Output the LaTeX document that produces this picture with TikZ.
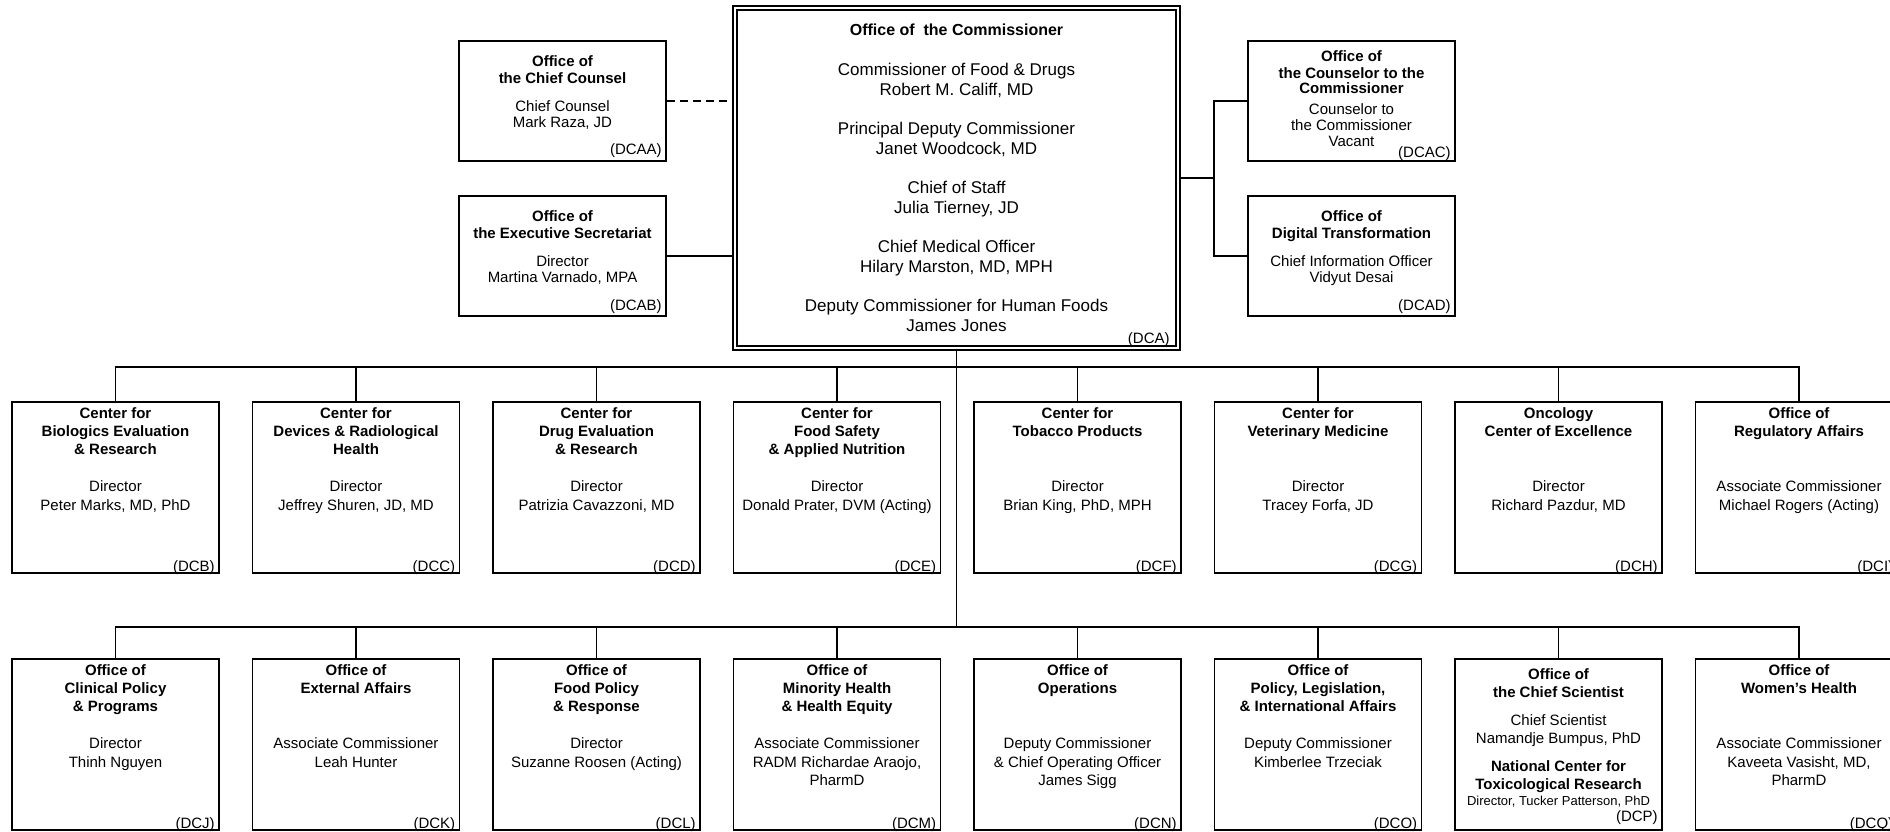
\documentclass[tikz,border=0pt]{standalone}
\usepackage{fontspec}
\setmainfont{Liberation Sans}
\usetikzlibrary{calc}
\tikzset{
  orgbox/.style={draw, line width=1.8pt, rectangle, inner sep=0pt, minimum width=207pt, minimum height=171pt},
  ttl/.style={font=\bfseries\fontsize{15}{18}\selectfont, align=center, inner sep=0pt, anchor=north},
  stf/.style={font=\fontsize{15}{18.5}\selectfont, align=center, inner sep=0pt, anchor=north},
  sttl/.style={font=\bfseries\fontsize{15}{15}\selectfont, align=center, inner sep=0pt, anchor=north},
  sstf/.style={font=\fontsize{15}{16}\selectfont, align=center, inner sep=0pt, anchor=north},
  codelbl/.style={font=\fontsize{15}{18}\selectfont, inner sep=0pt, anchor=base east},
  conn/.style={line width=1.8pt},
}
\newcommand\rowunit[7][-5pt]{%
  \node[orgbox] (#2) at (#3,#4) {};
  \node[ttl] (#2t) at ([yshift=-4.9pt]#2.north) {\strut #5};
  \node[stf] (#2s) at ([yshift=-77.5pt]#2.north) {\strut #6};
  \node[codelbl] (#2c) at ([xshift=#1,yshift=2.6pt]#2.south east) {#7};
}
\newcommand\sideunit[9]{%
  \node[orgbox, minimum height=120pt] (#1) at (#2,#3) {};
  \node[sttl] (#1t) at ([yshift=#7]#1.north) {\strut #4};
  \node[sstf] (#1s) at ([yshift=#8]#1.north) {\strut #5};
  \node[codelbl] (#1c) at ([xshift=-5pt,yshift=#9]#1.south east) {#6};
}
\begin{document}
\begin{tikzpicture}[x=1pt,y=-1pt]
\path[fill=white, use as bounding box] (0,0) rectangle (1890,831);

% Commissioner
\node[draw, line width=1.6pt, double, double distance=2.4pt, inner sep=0pt,
      minimum width=443pt, minimum height=340pt] (comm) at (956.5,178) {};
\node[font=\fontsize{17}{20}\selectfont, align=center, inner sep=0pt, anchor=north] (commtext)
  at ([yshift=-14pt]comm.north)
  {\strut{\fontsize{16}{20}\selectfont\bfseries Office of\ \ the Commissioner}\\[20pt]
   Commissioner of Food \& Drugs\\ Robert M. Califf, MD\\[19pt]
   Principal Deputy Commissioner\\ Janet Woodcock, MD\\[19pt]
   Chief of Staff\\ Julia Tierney, JD\\[19pt]
   Chief Medical Officer\\ Hilary Marston, MD, MPH\\[19pt]
   Deputy Commissioner for Human Foods\\ James Jones};
\node[codelbl] (commc) at ([xshift=-9pt,yshift=5.6pt]comm.south east) {(DCA)};

% Side offices
\sideunit{cc}{562.5}{101}{Office of\\the Chief Counsel}{Chief Counsel\\Mark Raza, JD}{(DCAA)}{-15.5pt}{-59.8pt}{7pt}
\sideunit{es}{562.5}{256}{Office of\\the Executive Secretariat}{Director\\Martina Varnado, MPA}{(DCAB)}{-15.5pt}{-59.8pt}{6.5pt}
\sideunit{cs}{1351.5}{101}{Office of\\the Counselor to the\\Commissioner}{Counselor to\\the Commissioner\\Vacant}{(DCAC)}{-10.5pt}{-62.8pt}{4.6pt}
\sideunit{dt}{1351.5}{256}{Office of\\Digital Transformation}{Chief Information Officer\\Vidyut Desai}{(DCAD)}{-15.5pt}{-59.8pt}{6.5pt}

\coordinate (rj) at (1214,178);
\draw[conn, dash pattern=on 8pt off 5pt] (cc.east) -- (cc.east -| comm.west);
\draw[conn] (es.east) -- (es.east -| comm.west);
\draw[conn] (comm.east |- rj) -- (rj);
\draw[conn] (cs.west) -| (rj);
\draw[conn] (dt.west) -| (rj);

% Row 1
\rowunit{b1}{115.5}{487.5}{Center for\\Biologics Evaluation\\\& Research}{Director\\Peter Marks, MD, PhD}{(DCB)}
\rowunit{b2}{356}{487.5}{Center for\\Devices \& Radiological\\Health}{Director\\Jeffrey Shuren, JD, MD}{(DCC)}
\rowunit{b3}{596.5}{487.5}{Center for\\Drug Evaluation\\\& Research}{Director\\Patrizia Cavazzoni, MD}{(DCD)}
\rowunit{b4}{837}{487.5}{Center for\\Food Safety\\\& Applied Nutrition}{Director\\Donald Prater, DVM (Acting)}{(DCE)}
\rowunit{b5}{1077.5}{487.5}{Center for\\Tobacco Products}{Director\\Brian King, PhD, MPH}{(DCF)}
\rowunit{b6}{1318}{487.5}{Center for\\Veterinary Medicine}{Director\\Tracey Forfa, JD}{(DCG)}
\rowunit{b7}{1558.5}{487.5}{Oncology\\Center of Excellence}{Director\\Richard Pazdur, MD}{(DCH)}
\rowunit[-10pt]{b8}{1799}{487.5}{Office of\\Regulatory Affairs}{Associate Commissioner\\Michael Rogers (Acting)}{(DCI)}

% Row 2
\rowunit{c1}{115.5}{744.5}{Office of\\Clinical Policy\\\& Programs}{Director\\Thinh Nguyen}{(DCJ)}
\rowunit{c2}{356}{744.5}{Office of\\External Affairs}{Associate Commissioner\\Leah Hunter}{(DCK)}
\rowunit{c3}{596.5}{744.5}{Office of\\Food Policy\\\& Response}{Director\\Suzanne Roosen (Acting)}{(DCL)}
\rowunit{c4}{837}{744.5}{Office of\\Minority Health\\\& Health Equity}{Associate Commissioner\\RADM Richardae Araojo,\\PharmD}{(DCM)}
\rowunit{c5}{1077.5}{744.5}{Office of\\Operations}{Deputy Commissioner\\\& Chief Operating Officer\\James Sigg}{(DCN)}
\rowunit{c6}{1318}{744.5}{Office of\\Policy, Legislation,\\\& International Affairs}{Deputy Commissioner\\Kimberlee Trzeciak}{(DCO)}
\rowunit[-10pt]{c8}{1799}{744.5}{Office of\\Women's Health}{Associate Commissioner\\Kaveeta Vasisht, MD,\\PharmD}{(DCQ)}

% Chief Scientist box
\node[orgbox] (c7) at (1558.5,744.5) {};
\node[ttl] (c7t) at ([yshift=-8.4pt]c7.north) {\strut Office of\\the Chief Scientist};
\node[stf] (c7s) at ([yshift=-54pt]c7.north) {\strut Chief Scientist\\Namandje Bumpus, PhD};
\node[ttl] (c7n) at ([yshift=-100.4pt]c7.north) {\strut National Center for\\Toxicological Research};
\node[font=\fontsize{13}{15}\selectfont, inner sep=0pt, anchor=base] (c7d) at ([yshift=-147.5pt]c7.north) {Director, Tucker Patterson, PhD};
\node[codelbl] (c7c) at ([xshift=-5pt,yshift=9.6pt]c7.south east) {(DCP)};

% Buses
\coordinate (bus1) at (956.5,367);
\coordinate (bus2) at (956.5,627);
\draw[conn] (comm.south) -- (bus2);
\draw[conn] (b1.north) |- (bus1) -| (b8.north);
\draw[conn] (c1.north) |- (bus2) -| (c8.north);
\foreach \i in {2,...,7} {
  \draw[conn] (b\i.north) -- (b\i.north |- bus1);
  \draw[conn] (c\i.north) -- (c\i.north |- bus2);
}
\end{tikzpicture}
\end{document}
